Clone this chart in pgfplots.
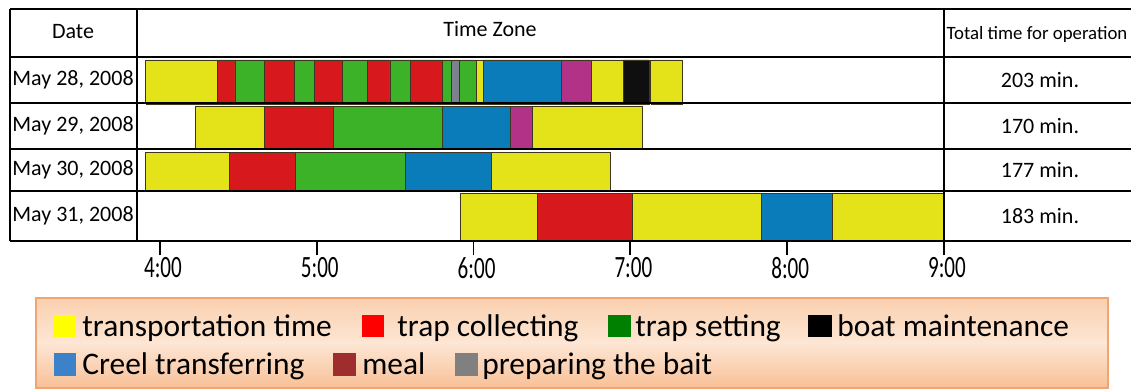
\documentclass[border=0pt]{standalone}
\usepackage{pgfplots}
\pgfplotsset{compat=1.18}
\usepackage{fontspec}
\setmainfont{Carlito}
\newfontfamily\tickfont[FakeStretch=0.68]{Carlito}
\definecolor{cY}{RGB}{228,226,24}
\definecolor{cR}{RGB}{215,25,30}
\definecolor{cG}{RGB}{60,178,40}
\definecolor{cB}{RGB}{10,124,185}
\definecolor{cM}{RGB}{178,50,135}
\definecolor{cK}{RGB}{15,15,15}
\definecolor{cGy}{RGB}{125,128,145}
\definecolor{cOut}{RGB}{60,55,30}
\definecolor{lY}{RGB}{255,255,0}
\definecolor{lR}{RGB}{255,0,0}
\definecolor{lG}{RGB}{0,128,0}
\definecolor{lB}{RGB}{60,130,200}
\definecolor{lM}{RGB}{160,45,45}
\definecolor{lGy}{RGB}{128,128,128}
\definecolor{boxTop}{RGB}{250,208,175}
\definecolor{boxMid}{RGB}{253,230,212}
\definecolor{boxBot}{RGB}{248,192,150}
\definecolor{boxLine}{RGB}{240,165,115}
\begin{document}
\begin{tikzpicture}
\path[use as bounding box] (0,0) rectangle (565.5pt,-195.5pt);
\begin{axis}[at={(68.5pt,-120.5pt)}, anchor=south west, scale only axis,
  width=404pt, height=92pt,
  xmin=-8.8, xmax=300.4, ymin=0, ymax=184,
  hide y axis, axis x line*=bottom, x axis line style={draw=none},
  xtick={0,60,120,180,240,300},
  xticklabels={4:00,5:00,6:00,7:00,8:00,9:00},
  tick align=outside, major tick length=7pt,
  every tick/.style={black, line width=0.9pt},
  tick label style={font=\tickfont\fontsize{15.5pt}{16pt}\selectfont, xshift=1.5pt, inner sep=1pt},
  /pgf/number format/assume math mode=true,
  clip=false, no markers,
  every axis plot/.append style={draw=cOut, line width=0.4pt}]
% Row 1: May 28, 2008 (y 137-181)
\addplot[fill=cY]  coordinates {(-5.4,137) (21.9,137) (21.9,181) (-5.4,181) (-5.4,137)};
\addplot[fill=cR]  coordinates {(21.9,137) (28.7,137) (28.7,181) (21.9,181) (21.9,137)};
\addplot[fill=cG]  coordinates {(28.7,137) (39.9,137) (39.9,181) (28.7,181) (28.7,137)};
\addplot[fill=cR]  coordinates {(39.9,137) (51.4,137) (51.4,181) (39.9,181) (39.9,137)};
\addplot[fill=cG]  coordinates {(51.4,137) (59.0,137) (59.0,181) (51.4,181) (51.4,137)};
\addplot[fill=cR]  coordinates {(59.0,137) (69.8,137) (69.8,181) (59.0,181) (59.0,137)};
\addplot[fill=cG]  coordinates {(69.8,137) (79.3,137) (79.3,181) (69.8,181) (69.8,137)};
\addplot[fill=cR]  coordinates {(79.3,137) (88.0,137) (88.0,181) (79.3,181) (79.3,137)};
\addplot[fill=cG]  coordinates {(88.0,137) (95.7,137) (95.7,181) (88.0,181) (88.0,137)};
\addplot[fill=cR]  coordinates {(95.7,137) (108.0,137) (108.0,181) (95.7,181) (95.7,137)};
\addplot[fill=cG]  coordinates {(108.0,137) (111.6,137) (111.6,181) (108.0,181) (108.0,137)};
\addplot[fill=cGy] coordinates {(111.6,137) (114.5,137) (114.5,181) (111.6,181) (111.6,137)};
\addplot[fill=cG]  coordinates {(114.5,137) (121.2,137) (121.2,181) (114.5,181) (114.5,137)};
\addplot[fill=cY]  coordinates {(121.2,137) (123.7,137) (123.7,181) (121.2,181) (121.2,137)};
\addplot[fill=cB]  coordinates {(123.7,137) (153.7,137) (153.7,181) (123.7,181) (123.7,137)};
\addplot[fill=cM]  coordinates {(153.7,137) (165.2,137) (165.2,181) (153.7,181) (153.7,137)};
\addplot[fill=cY]  coordinates {(165.2,137) (177.3,137) (177.3,181) (165.2,181) (165.2,137)};
\addplot[fill=cK]  coordinates {(177.3,137) (187.2,137) (187.2,181) (177.3,181) (177.3,137)};
\addplot[fill=cY]  coordinates {(187.8,137) (199.9,137) (199.9,181) (187.8,181) (187.8,137)};
% Row 2: May 29, 2008 (y 93-135)
\addplot[fill=cY]  coordinates {(13.4,93) (39.9,93) (39.9,135) (13.4,135) (13.4,93)};
\addplot[fill=cR]  coordinates {(39.9,93) (66.3,93) (66.3,135) (39.9,135) (39.9,93)};
\addplot[fill=cG]  coordinates {(66.3,93) (108.0,93) (108.0,135) (66.3,135) (66.3,93)};
\addplot[fill=cB]  coordinates {(108.0,93) (133.9,93) (133.9,135) (108.0,135) (108.0,93)};
\addplot[fill=cM]  coordinates {(133.9,93) (142.4,93) (142.4,135) (133.9,135) (133.9,93)};
\addplot[fill=cY]  coordinates {(142.4,93) (184.6,93) (184.6,135) (142.4,135) (142.4,93)};
% Row 3: May 30, 2008 (y 51-89)
\addplot[fill=cY]  coordinates {(-5.4,51) (26.5,51) (26.5,89) (-5.4,89) (-5.4,51)};
\addplot[fill=cR]  coordinates {(26.5,51) (51.7,51) (51.7,89) (26.5,89) (26.5,51)};
\addplot[fill=cG]  coordinates {(51.7,51) (93.8,51) (93.8,89) (51.7,89) (51.7,51)};
\addplot[fill=cB]  coordinates {(93.8,51) (126.7,51) (126.7,89) (93.8,89) (93.8,51)};
\addplot[fill=cY]  coordinates {(126.7,51) (172.3,51) (172.3,89) (126.7,89) (126.7,51)};
% Row 4: May 31, 2008 (y 1-48)
\addplot[fill=cY]  coordinates {(114.8,1) (144.3,1) (144.3,48) (114.8,48) (114.8,1)};
\addplot[fill=cR]  coordinates {(144.3,1) (180.7,1) (180.7,48) (144.3,48) (144.3,1)};
\addplot[fill=cY]  coordinates {(180.7,1) (230.0,1) (230.0,48) (180.7,48) (180.7,1)};
\addplot[fill=cB]  coordinates {(230.0,1) (257.5,1) (257.5,48) (230.0,48) (230.0,1)};
\addplot[fill=cY]  coordinates {(257.5,1) (299.6,1) (299.6,48) (257.5,48) (257.5,1)};
\end{axis}
\begin{scope}[x=0.5pt,y=-0.5pt]
  % table grid
  \draw[line width=1.2pt] (10,9) -- (1131,9);
  \foreach \yy in {57,103,149,191,241} \draw[line width=1.2pt] (10,\yy) -- (1131,\yy);
  \draw[line width=1.2pt] (10,9) -- (10,241);
  \draw[line width=1.2pt] (137,9) -- (137,241);
  \draw[line width=1.2pt] (944,9) -- (944,241);
  % header
  \node[font=\fontsize{11pt}{12pt}\selectfont] at (73,32) {Date};
  \node[font=\fontsize{11pt}{12pt}\selectfont] at (490,29) {Time Zone};
  \node[font=\fontsize{9.4pt}{10pt}\selectfont] at (1037,34) {Total time for operation};
  % dates
  \foreach \yy/\tt in {80/{May 28, 2008},126/{May 29, 2008},170/{May 30, 2008},216/{May 31, 2008}}
    \node[font=\fontsize{11pt}{12pt}\selectfont, anchor=west, inner sep=0pt] at (12,\yy) {\tt};
  \foreach \yy/\tt in {80/{203 min.},126/{170 min.},170/{177 min.},216/{183 min.}}
    \node[font=\fontsize{11pt}{12pt}\selectfont] at (1040,\yy) {\tt};
  % legend box
  \draw[boxLine, line width=0.6pt, top color=boxTop, bottom color=boxBot, middle color=boxMid] (36,298) rectangle (1108,388);
  \begin{scope}[every node/.style={font=\fontsize{15.7pt}{17pt}\selectfont, anchor=base west, inner sep=0pt}]
    \fill[lY] (53,315) rectangle (76,337);   \node at (82,336) {transportation time};
    \fill[lR] (362,315) rectangle (384,337); \node at (397,336) {trap collecting};
    \fill[lG] (608,315) rectangle (631,337); \node at (635,336) {trap setting};
    \fill[black] (808,315) rectangle (832,337); \node at (837,336) {boat maintenance};
    \fill[lB] (54,353) rectangle (76,376);   \node at (82,374) {Creel transferring};
    \fill[lM] (333,353) rectangle (356,376); \node at (362,374) {meal};
    \fill[lGy] (455,353) rectangle (478,376); \node at (482,374) {preparing the bait};
  \end{scope}
\end{scope}
\end{tikzpicture}
\end{document}
